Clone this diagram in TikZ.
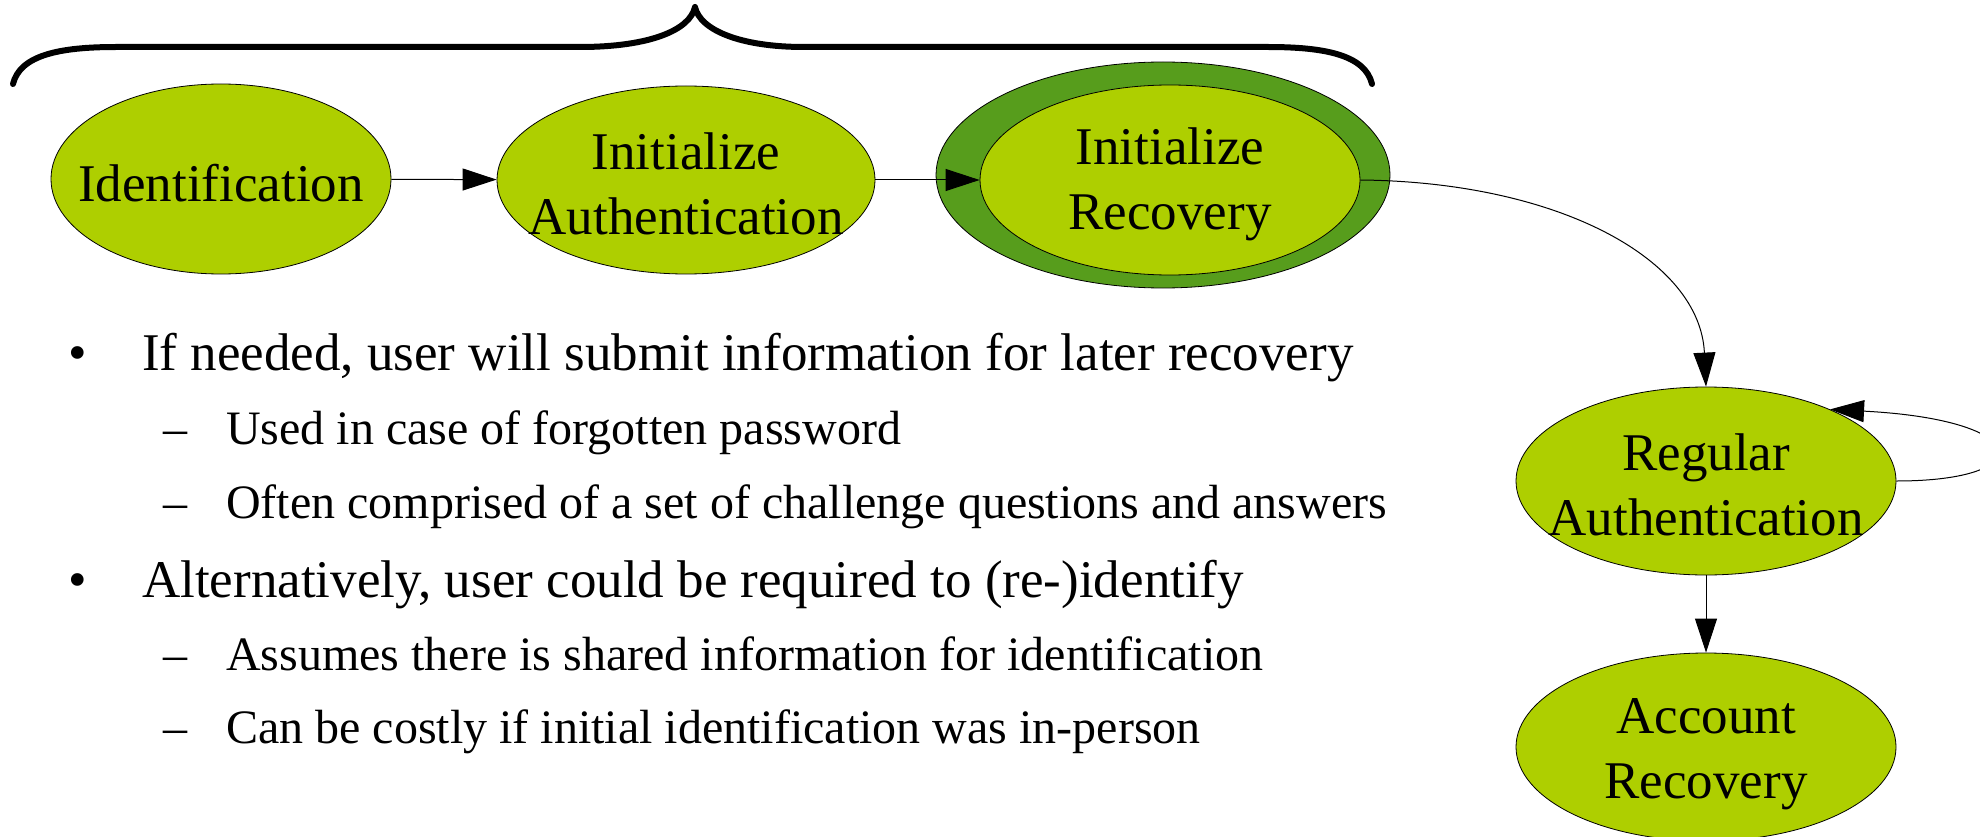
\documentclass[tikz,border=0pt]{standalone}
\usepackage{fontspec}
\setmainfont{Liberation Serif}
\usetikzlibrary{shapes.geometric,arrows.meta}
\definecolor{leaf}{HTML}{AECF00}
\definecolor{moss}{HTML}{579D1C}
\begin{document}
\begin{tikzpicture}[x=1pt,y=-1pt,
  stage/.style={ellipse,draw=black,line width=0.8pt,fill=leaf,inner sep=0pt},
  caption/.style={align=center,font=\fontsize{53}{65}\selectfont,inner sep=0pt,yshift=-4pt},
  edge/.style={line width=1pt,-{Triangle[length=34pt,width=22pt]}},
  mainitem/.style={anchor=base west,inner sep=0pt,font=\fontsize{53}{64}\selectfont},
  subitem/.style={anchor=base west,inner sep=0pt,font=\fontsize{48}{58}\selectfont}]
\useasboundingbox (0,0) rectangle (1980,837);

% brace spanning the setup phase
\draw[line width=6pt,line cap=round,line join=round]
  (13,84) .. controls (20,55) and (60,47) .. (116,47) -- (580,47)
  .. controls (650,47) and (690,30) .. (695,7)
  .. controls (700,30) and (740,47) .. (804,47) -- (1268,47)
  .. controls (1325,47) and (1365,55) .. (1372,84);

% stages of the account life cycle
\node[stage,minimum width=340pt,minimum height=190pt,
  label={[caption]center:Identification}] (id) at (221,179) {};
\node[stage,minimum width=378pt,minimum height=188pt,
  label={[caption]center:Initialize\\Authentication}] (auth) at (686,180) {};
\node[stage,fill=moss,minimum width=454pt,minimum height=226pt] (recring) at (1163,175) {};
\node[stage,minimum width=380pt,minimum height=190pt,
  label={[caption]center:Initialize\\Recovery}] (rec) at (1170,180) {};
\node[stage,minimum width=380pt,minimum height=188pt,
  label={[caption]center:Regular\\Authentication}] (reg) at (1706,481) {};
\node[stage,minimum width=380pt,minimum height=188pt,
  label={[caption,yshift=-3pt]center:Account\\Recovery}] (acc) at (1706,747) {};

% transitions
\draw[edge] (id) -- (auth);
\draw[edge] (auth) -- (rec);
\draw[edge] (rec.east) .. controls (1560,182) and (1700,260) .. (reg.north);
\draw[edge] (reg.east) .. controls (2040,481) and (2035,420) .. (reg.30);
\draw[edge] (reg) -- (acc);

% notes
\node[mainitem] (b1) at (68,370) {•};
\node[mainitem] (t1) at (142,370) {If needed, user will submit information for later recovery};
\node[subitem] (d1) at (163,444) {–};
\node[subitem] (t2) at (226,444) {Used in case of forgotten password};
\node[subitem] (d2) at (163,518) {–};
\node[subitem] (t3) at (226,518) {Often comprised of a set of challenge questions and answers};
\node[mainitem] (b2) at (68,597) {•};
\node[mainitem] (t4) at (142,597) {Alternatively, user could be required to (re-)identify};
\node[subitem] (d3) at (163,670) {–};
\node[subitem] (t5) at (226,670) {Assumes there is shared information for identification};
\node[subitem] (d4) at (163,743) {–};
\node[subitem] (t6) at (226,743) {Can be costly if initial identification was in-person};
\end{tikzpicture}
\end{document}
